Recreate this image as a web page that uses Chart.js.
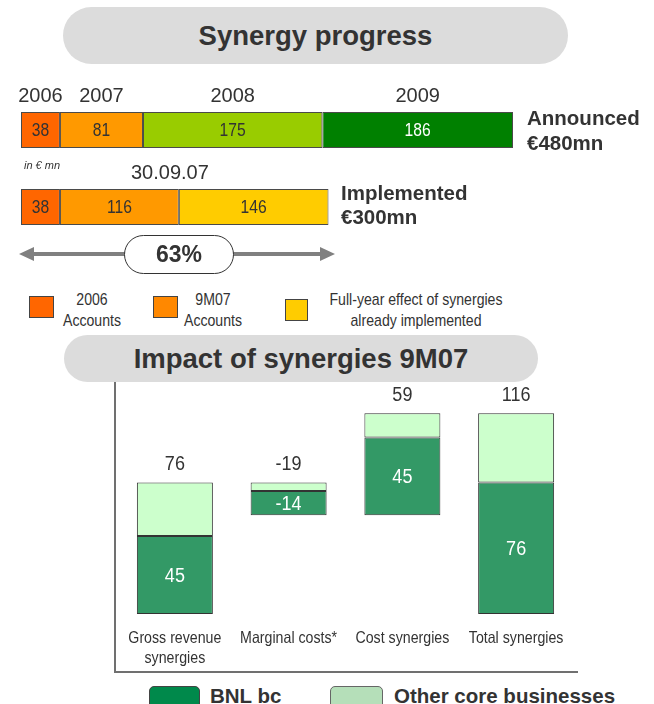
<!DOCTYPE html>
<html><head><meta charset="utf-8">
<script src="https://cdn.jsdelivr.net/npm/chart.js@4.4.0/dist/chart.umd.min.js"></script>
<style>
html,body{margin:0;padding:0;background:#fff;}
#wrap{position:relative;width:654px;height:704px;overflow:hidden;font-family:"Liberation Sans",Arial,sans-serif;color:#333;}
.abs{position:absolute;}
.pill{position:absolute;background:#dcdcdc;font-weight:bold;font-size:27.5px;display:flex;align-items:center;justify-content:center;color:#333;}
.bold20{font-weight:bold;font-size:20.5px;line-height:24px;white-space:nowrap;}
.leg{font-size:17px;line-height:21px;text-align:center;color:#333;white-space:nowrap;transform:scaleX(0.83);transform-origin:50% 50%;}
.sw{position:absolute;box-sizing:border-box;border:1.5px solid #444;}
canvas{position:absolute;}
</style></head>
<body><div id="wrap">
<div class="pill" style="left:63px;top:7px;width:505px;height:57px;border-radius:29px;">Synergy progress</div>

<canvas id="top" width="654" height="175" style="left:0;top:80px;width:654px;height:175px"></canvas>

<div class="abs bold20" style="left:527px;top:105px;line-height:25px">Announced<br>€480mn</div>
<div class="abs bold20" style="left:341px;top:181px;">Implemented<br>€300mn</div>
<div class="abs" style="left:24px;top:158px;font-style:italic;font-size:11px;line-height:14px">in € mn</div>
<div class="abs" style="left:131px;top:160px;font-size:20px;line-height:24px">30.09.07</div>

<svg class="abs" style="left:0;top:240px" width="345" height="30">
<line x1="30" y1="14" x2="323" y2="14" stroke="#808080" stroke-width="4"/>
<polygon points="19,14 34,7 34,21" fill="#808080"/>
<polygon points="335,14 320,7 320,21" fill="#808080"/>
</svg>
<div class="abs" style="left:124px;top:235px;width:110px;height:39px;box-sizing:border-box;border:1.5px solid #333;border-radius:20px;background:#fff;font-weight:bold;font-size:23px;display:flex;align-items:center;justify-content:center">63%</div>

<div class="sw" style="left:29px;top:296px;width:25px;height:22px;background:#ff6600"></div>
<div class="abs leg" style="left:42px;top:289px;width:100px">2006<br>Accounts</div>
<div class="sw" style="left:153px;top:296px;width:25px;height:22px;background:#ff8800"></div>
<div class="abs leg" style="left:163px;top:289px;width:100px">9M07<br>Accounts</div>
<div class="sw" style="left:285px;top:299px;width:23px;height:22px;background:#ffcc00"></div>
<div class="abs leg" style="left:296px;top:289px;width:240px">Full-year effect of synergies<br>already implemented</div>

<div class="pill" style="left:64px;top:335px;width:474px;height:47px;border-radius:24px;">Impact of synergies 9M07</div>

<div class="abs" style="left:114px;top:382px;width:462px;height:289px;border-left:2px solid #707070;border-bottom:2px solid #707070"></div>
<canvas id="bottom" width="500" height="300" style="left:100px;top:380px;width:500px;height:300px"></canvas>

<div class="sw" style="left:149px;top:686px;width:51px;height:30px;border-radius:5px;background:#00894b"></div>
<div class="abs" style="left:210px;top:686px;font-weight:bold;font-size:20.5px;line-height:20px">BNL bc</div>
<div class="sw" style="left:330px;top:686px;width:53px;height:30px;border-radius:5px;background:#b5dfb9;border-color:#666"></div>
<div class="abs" style="left:394px;top:686px;font-weight:bold;font-size:20.5px;line-height:20px;white-space:nowrap">Other core businesses</div>
</div>
<script>
// ---------- data ----------
const rowLabels = ['Announced', 'Implemented'];
const announcedYears = ['2006', '2007', '2008', '2009'];
const announcedValues = [38, 81, 175, 186];
const implementedValues = [38, 116, 146];
const impactCategories = [['Gross revenue', 'synergies'], 'Marginal costs*', 'Cost synergies', 'Total synergies'];
const bnlValues = [45, -14, 45, 76];
const otherValues = [31, -5, 14, 40];
const totalValues = [76, -19, 59, 116];
const isTotalBar = [false, false, false, true];

// ---------- styles ----------
const FONT = '"Liberation Sans",Arial,sans-serif';
const announcedColors = ['#ff6600', '#ff9900', '#99cc00', '#008000'];
const announcedLabelColors = ['#333', '#333', '#333', '#ffffff'];
const implementedColors = ['#ff6600', '#ff9900', '#ffcc00'];
const implementedLabelColors = ['#333', '#333', '#333'];

function narrowText(ctx, text, x, y, size, sx, color) {
  ctx.save();
  ctx.translate(x, y); ctx.scale(sx, 1);
  ctx.font = size + 'px ' + FONT; ctx.fillStyle = color;
  ctx.textAlign = 'center'; ctx.textBaseline = 'middle';
  ctx.fillText(text, 0, 0);
  ctx.restore();
}

Chart.defaults.devicePixelRatio = 1;
Chart.defaults.animation = false;

// ---------- top chart ----------
const topDatasets = [];
announcedValues.forEach((v, i) => topDatasets.push({
  data: [v, null], backgroundColor: announcedColors[i], labelColor: announcedLabelColors[i], year: announcedYears[i]
}));
implementedValues.forEach((v, i) => topDatasets.push({
  data: [null, v], backgroundColor: implementedColors[i], labelColor: implementedLabelColors[i]
}));
topDatasets.forEach(d => Object.assign(d, {borderColor: '#4a4a4a', borderWidth: 1, borderSkipped: false, barPercentage: 0.4675, categoryPercentage: 1}));

const segLabels = {
  id: 'segLabels',
  afterDatasetsDraw(chart) {
    const ctx = chart.ctx;
    chart.data.datasets.forEach((ds, di) => {
      const meta = chart.getDatasetMeta(di);
      meta.data.forEach((el, i) => {
        const v = ds.data[i]; if (v == null) return;
        const p = el.getProps(['x', 'y', 'base', 'height'], true);
        const cx = (p.x + p.base) / 2;
        narrowText(ctx, String(v), cx, p.y + 1, 18, 0.87, ds.labelColor);
        if (ds.year) narrowText(ctx, ds.year, cx, p.y - p.height / 2 - 16, 20, 1, '#333');
      });
    });
  }
};

new Chart(document.getElementById('top'), {
  type: 'bar',
  data: {labels: rowLabels, datasets: topDatasets},
  options: {
    indexAxis: 'y', responsive: false,
    layout: {padding: {left: 21, right: 141, top: 11.5, bottom: 9.5}},
    plugins: {legend: {display: false}, tooltip: {enabled: false}},
    scales: {
      x: {stacked: true, min: 0, max: 480, display: false},
      y: {stacked: true, display: false}
    }
  },
  plugins: [segLabels]
});

// ---------- bottom (waterfall) chart ----------
const bnlRanges = [], otherRanges = [];
let running = 0;
impactCategories.forEach((c, i) => {
  if (isTotalBar[i]) {
    bnlRanges.push([0, bnlValues[i]]);
    otherRanges.push([bnlValues[i], totalValues[i]]);
  } else {
    const start = running, end = running + totalValues[i];
    if (totalValues[i] >= 0) {
      bnlRanges.push([start, start + bnlValues[i]]);
      otherRanges.push([start + bnlValues[i], end]);
    } else {
      bnlRanges.push([end, end - bnlValues[i]]);
      otherRanges.push([end - bnlValues[i], start]);
    }
    running = end;
  }
});

const wfLabels = {
  id: 'wfLabels',
  afterDatasetsDraw(chart) {
    const ctx = chart.ctx;
    const m0 = chart.getDatasetMeta(0), m1 = chart.getDatasetMeta(1);
    impactCategories.forEach((c, i) => {
      const a = m0.data[i].getProps(['x', 'y', 'base'], true);
      const b = m1.data[i].getProps(['x', 'y', 'base'], true);
      const top = Math.min(a.y, a.base, b.y, b.base);
      narrowText(ctx, String(totalValues[i]), b.x, top - 18, 20, 0.9, '#333');
      narrowText(ctx, String(bnlValues[i]), a.x, (a.y + a.base) / 2 + 1, 20, 0.9, '#ffffff');
    });
  },
  afterDraw(chart) {
    const ctx = chart.ctx, xs = chart.scales.x, bottom = chart.chartArea.bottom;
    xs.ticks.forEach((t, i) => {
      const lines = [].concat(impactCategories[i]);
      lines.forEach((ln, j) => narrowText(ctx, ln, xs.getPixelForTick(i), bottom + 24 + j * 20, 16.5, 0.86, '#333'));
    });
  }
};

new Chart(document.getElementById('bottom'), {
  type: 'bar',
  data: {
    labels: impactCategories,
    datasets: [
      {label: 'BNL bc', data: bnlRanges, backgroundColor: '#339966'},
      {label: 'Other core businesses', data: otherRanges, backgroundColor: '#ccffcc'}
    ].map(d => Object.assign(d, {borderColor: '#333', borderWidth: 1, borderSkipped: false, grouped: false, barPercentage: 0.668, categoryPercentage: 1}))
  },
  options: {
    responsive: false,
    layout: {padding: {left: 18, right: 27, top: 9, bottom: 0}},
    plugins: {legend: {display: false}, tooltip: {enabled: false}},
    scales: {
      x: {
        grid: {display: false, drawTicks: false}, border: {display: false},
        ticks: {display: false, autoSkip: false, maxRotation: 0, minRotation: 0},
        afterFit: s => { s.height = 66; }
      },
      y: {min: 0, max: 130, display: false}
    }
  },
  plugins: [wfLabels]
});
</script>
</body></html>
